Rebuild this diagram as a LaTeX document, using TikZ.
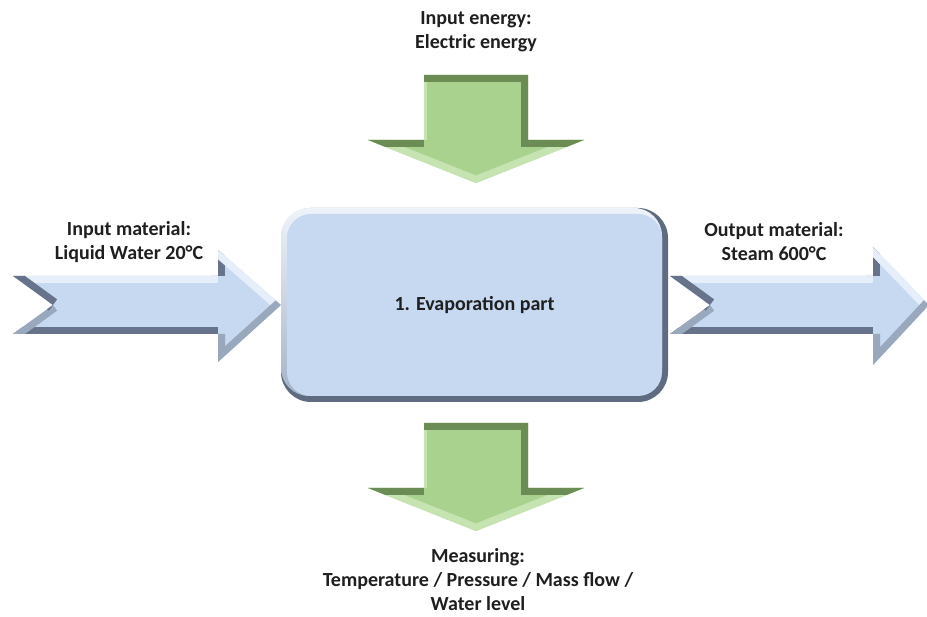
\documentclass[tikz,border=0pt]{standalone}
\usepackage{fontspec}
\setmainfont{Carlito}
\usepackage{xcolor}
\usepackage{tikz}

\definecolor{bluemain}{HTML}{C6D9F1}
\definecolor{bluelight}{HTML}{E6EEF9}
\definecolor{bluemid}{HTML}{9AA8BE}
\definecolor{bluedark}{HTML}{66738A}
\definecolor{greenmain}{HTML}{AAD28F}
\definecolor{greenlight}{HTML}{C6E3B2}
\definecolor{greendark}{HTML}{6B8D55}
\definecolor{boxdark}{HTML}{5F6B80}
\definecolor{boxlight}{HTML}{EEF3FA}
\definecolor{boxmid}{HTML}{A4B3C9}

\tikzset{
  lbl/.style={align=center, text=black!88,
              font=\bfseries\fontsize{20}{24}\selectfont},
  bevel/.style={line width=14pt},
  thinbevel/.style={line width=6pt},
  evapbox/.style={lbl, fill=bluemain, rounded corners=24pt, inner sep=0pt,
                  minimum width=375pt, minimum height=182pt},
}

\begin{document}
\begin{tikzpicture}[x=1pt,y=-1pt]
  \useasboundingbox (0,0) rectangle (927,617);
  \fill[white] (0,0) rectangle (927,617);

  % green arrows: energy in (top), measuring out (bottom)
  \foreach \dy in {0,348}{
    \begin{scope}[yshift=-\dy pt]
      \clip (424,75) -- (528,75) -- (528,140) -- (584,140) -- (476,183)
            -- (368,140) -- (424,140) -- cycle;
      \fill[greenmain] (360,70) rectangle (590,190);
      \draw[thinbevel, greenlight] (424,140) -- (424,75);
      \draw[bevel, greenlight] (584,140) -- (476,183) -- (368,140);
      \draw[bevel, greendark] (424,75) -- (528,75) -- (528,140) -- (584,140);
      \draw[bevel, greendark] (368,140) -- (424,140);
    \end{scope}
  }

  % blue notched arrows: material in (left), material out (right)
  \foreach \tx/\nx/\hx/\px/\ht/\hb in {13/53/218/281/250/362, 670/710/873/929/247/365}{
    \begin{scope}
      \clip (\tx,276) -- (\hx,276) -- (\hx,\ht) -- (\px,305) -- (\hx,\hb)
            -- (\hx,334) -- (\tx,334) -- (\nx,305) -- cycle;
      \fill[bluemain] (\tx,240) rectangle (\px,370);
      \draw[bevel, bluedark] (\hx,276) -- (\hx,\ht);
      \draw[bevel, bluelight] (\tx,276) -- (\hx,276);
      \draw[bevel, bluelight] (\hx,\ht) -- (\px,305);
      \draw[bevel, bluemid] (\px,305) -- (\hx,\hb) -- (\hx,334);
      \draw[bevel, bluedark] (\hx,334) -- (\tx,334);
      \draw[bevel, bluemid] (\tx,334) -- (\nx,305);
      \draw[bevel, bluedark] (\nx,305) -- (\tx,276);
    \end{scope}
  }

  % process box with bevel
  \fill[boxdark, rounded corners=30pt] (281,208) rectangle (668,402);
  \shade[top color=boxlight, bottom color=boxmid, rounded corners=28pt]
        (281,208) rectangle (662,396);
  \node[evapbox] (evap) at (474.5,305) {1. Evaporation part};

  \node[lbl] (energy) at (476,32) {Input energy:\\Electric energy};
  \node[lbl] (input) at (129,242) {Input material:\\Liquid Water 20°C};
  \node[lbl] (output) at (774,242) {Output material:\\Steam 600°C};
  \node[lbl] (measure) at (478,580) {Measuring:\\Temperature / Pressure / Mass flow /\\Water level};
\end{tikzpicture}
\end{document}
